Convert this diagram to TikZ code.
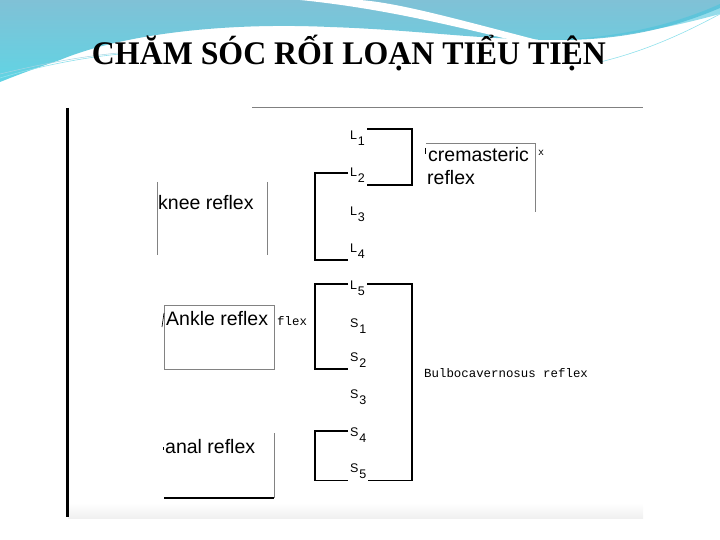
\documentclass[tikz,border=0pt]{standalone}
\usepackage{fontspec}
\setmainfont{Liberation Serif}
\setsansfont{Liberation Sans}
\setmonofont{Liberation Mono}
\usepackage{tikz}
\usetikzlibrary{positioning}

\definecolor{skyA}{RGB}{128,193,214}
\definecolor{skyB}{RGB}{96,212,228}
\definecolor{skyC}{RGB}{76,196,220}
\definecolor{scangray}{RGB}{130,130,130}

\newcommand{\seg}[2]{#1\kern0.8pt\raisebox{-6pt}{#2}}

\begin{document}
\begin{tikzpicture}[x=1pt, y=-1pt,
        seg/.style={font=\fontsize{12.5}{12}\sffamily, inner sep=2pt, anchor=base west},
        label/.style={font=\fontsize{19.5}{23}\sffamily, inner sep=0pt, anchor=base west},
        mono/.style={font=\fontsize{12.4}{13}\ttfamily, inner sep=0pt, anchor=base west},
        bracket/.style={line width=1.6pt},
        frame/.style={scangray, line width=0.8pt}]
        \useasboundingbox (0,0) rectangle (720,540);

        % Header swoosh
        \shade[top color=skyA, bottom color=skyB] (0,0) -- (720,0) -- (720,8)
            .. controls (680,25) and (630,40) .. (560,40)
            .. controls (480,40) and (420,30) .. (330,27)
            .. controls (220,22) and (120,35) .. (60,60)
            .. controls (30,70) and (10,78) .. (0,82) -- cycle;
        \fill[skyC, opacity=0.6] (720,4) .. controls (680,22) and (630,36) .. (560,40)
            .. controls (630,38) and (690,22) .. (720,14) -- cycle;
        \fill[white] (300,0) .. controls (380,8) and (450,25) .. (520,42) -- (545,42)
            .. controls (460,20) and (400,3) .. (360,0) -- cycle;
        \draw[skyB!70, line width=0.6pt] (0,78) .. controls (40,66) and (80,58) .. (120,54);
        \draw[skyA!70, line width=0.5pt] (0,74) .. controls (50,62) and (90,55) .. (130,52);
        \draw[skyB!70, line width=0.6pt] (600,62) .. controls (650,50) and (690,30) .. (720,14);

        % Title
        \node[font=\fontsize{33}{36}\selectfont\bfseries, anchor=base, xscale=0.965] (title) at (349,65)
            {CHĂM SÓC RỐI LOẠN TIỂU TIỆN};

        % Scanned page edges
        \shade[top color=white, bottom color=gray!12] (68,503) rectangle (643,518);
        \draw[line width=3pt] (67,108) -- (67,517);
        \draw[gray, line width=0.8pt] (252,107) -- (643,107);

        % Cord segments
        \node[seg] (L1) at (348,140) {\seg{L}{1}};
        \node[seg] (L2) at (348,177) {\seg{L}{2}};
        \node[seg] (L3) at (348,215) {\seg{L}{3}};
        \node[seg] (L4) at (348,252) {\seg{L}{4}};
        \node[seg] (L5) at (348,289) {\seg{L}{5}};
        \node[seg] (S1) at (348,327) {\seg{S}{1}};
        \node[seg] (S2) at (348,361) {\seg{S}{2}};
        \node[seg] (S3) at (348,398) {\seg{S}{3}};
        \node[seg] (S4) at (348,436) {\seg{S}{4}};
        \node[seg] (S5) at (348,472) {\seg{S}{5}};

        \coordinate (lcol) at (315,0);
        \coordinate (rcol) at (412,0);

        % Brackets
        \draw[bracket] (L1.north east) -| (rcol |- L2.south) -- (L2.south east);
        \draw[bracket] ([yshift=4pt]L2.base west) -| (lcol |- L4.south) -- (L4.south west);
        \draw[bracket] ([yshift=5pt]L5.base west) -| (lcol |- S2.south) -- (S2.south west);
        \draw[bracket] ([yshift=5pt]L5.base east) -| (rcol |- S5.south) -- (S5.south east);
        \draw[bracket] ([yshift=5pt]S4.base west) -| (lcol |- S5.south) -- (S5.south west);

        % Reflex labels
        \node[label] (knee) at (158,210) {knee reflex};
        \draw[frame] (157,182) -- (157,255);
        \draw[frame] (267,182) -- (267,255);

        \node[label] (crem) at (428,162) {cremasteric};
        \node[label] (cremb) at (427,185) {reflex};
        \draw[frame] (426,143) -- (535,143) -- (535,212);
        \draw[line width=0.7pt] (425,148) -- (425,154);
        \node[mono, font=\fontsize{10}{10}\ttfamily] (cremx) at (538,156) {x};

        \node[label] (ankle) at (166,325) {Ankle reflex};
        \draw[frame] (164,305) rectangle (274,369);
        \draw[line width=0.7pt] (162,327) -- (164,313);
        \node[mono] (anklex) at (277,325) {flex};

        \node[label] (anal) at (165,453) {anal reflex};
        \draw[frame] (274,433) -- (274,498);
        \draw[line width=1.2pt] (164,498) -- (274,498);
        \draw[line width=0.7pt] (163,447) -- (163,450);

        \node[mono] (bulbo) at (424,377) {Bulbocavernosus reflex};
\end{tikzpicture}
\end{document}
